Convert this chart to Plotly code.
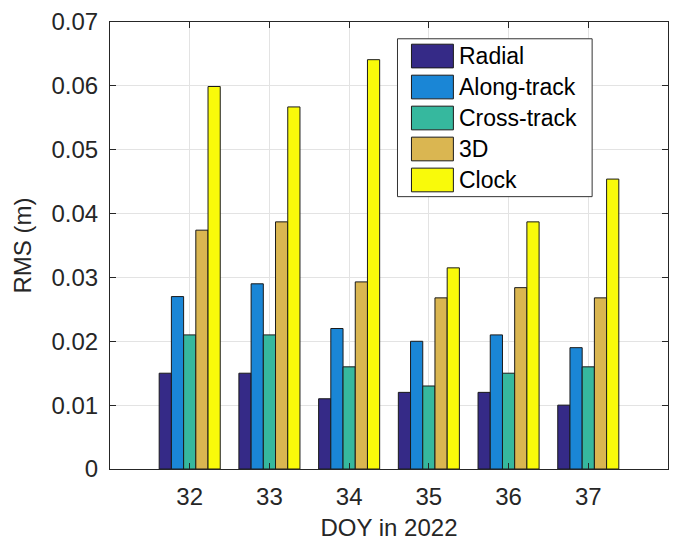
import plotly.graph_objects as go

# Orbit and clock RMS per day of year
doy = [32, 33, 34, 35, 36, 37]
series_names = ["Radial", "Along-track", "Cross-track", "3D", "Clock"]
radial = [0.015, 0.015, 0.011, 0.012, 0.012, 0.010]
along_track = [0.027, 0.029, 0.022, 0.020, 0.021, 0.019]
cross_track = [0.021, 0.021, 0.016, 0.013, 0.015, 0.016]
three_d = [0.0374, 0.0387, 0.0293, 0.0268, 0.0284, 0.0268]
clock = [0.0599, 0.0567, 0.0641, 0.0315, 0.0387, 0.0454]
y_ticks = [0, 0.01, 0.02, 0.03, 0.04, 0.05, 0.06, 0.07]
y_tick_text = ["0", "0.01", "0.02", "0.03", "0.04", "0.05", "0.06", "0.07"]

values = [radial, along_track, cross_track, three_d, clock]
colors = ["#352A87", "#1A86D6", "#36B89E", "#DAB651", "#F9FA0A"]

W, H = 677, 551
ML, MR, MT, MB = 110, 8, 16, 82
PW, PH = W - ML - MR, H - MT - MB
FONT = "Liberation Sans, Arial, sans-serif"
INK = "#262626"

fig = go.Figure()
for name, vals, col in zip(series_names, values, colors):
    fig.add_trace(go.Bar(
        x=doy, y=vals, name=name, showlegend=False,
        marker=dict(color=col, line=dict(color="#1a1a1a", width=1)),
    ))


def px_x(p):
    return (p - ML) / PW


def px_y(p):
    return (H - MB - p) / PH


# Boxed legend in the upper right, drawn with shapes and text
shapes = [dict(type="rect", xref="paper", yref="paper",
               x0=px_x(398), x1=px_x(593), y0=px_y(193), y1=px_y(33),
               line=dict(color="#333333", width=1), fillcolor="white", layer="above")]
annotations = []
row0, pitch = 50.5, 31.4
for i, (name, col) in enumerate(zip(series_names, colors)):
    cy = row0 + i * pitch
    shapes.append(dict(type="rect", xref="paper", yref="paper",
                       x0=px_x(412), x1=px_x(454), y0=px_y(cy + 12), y1=px_y(cy - 12),
                       line=dict(color="#1a1a1a", width=1), fillcolor=col, layer="above"))
    annotations.append(dict(xref="paper", yref="paper", x=px_x(458), y=px_y(cy),
                            xanchor="left", yanchor="middle", text=name, showarrow=False,
                            font=dict(family=FONT, size=23, color="#000000")))

fig.update_layout(
    width=W, height=H,
    margin=dict(l=ML, r=MR, t=MT, b=MB),
    paper_bgcolor="white", plot_bgcolor="white",
    barmode="group", bargap=0.234, bargroupgap=0,
    font=dict(family=FONT, size=24, color=INK),
    shapes=shapes, annotations=annotations,
    xaxis=dict(
        range=[31, 38], tickvals=doy, ticktext=[str(d) for d in doy],
        ticks="inside", ticklen=6, tickcolor=INK, mirror="allticks",
        showline=True, linecolor=INK, linewidth=1,
        showgrid=True, gridcolor="#e3e3e3", gridwidth=1, zeroline=False,
        title=dict(text="DOY in 2022", standoff=10, font=dict(size=24)),
        tickfont=dict(size=24), ticklabelstandoff=6,
    ),
    yaxis=dict(
        range=[0, 0.07], tickvals=y_ticks, ticktext=y_tick_text,
        ticks="inside", ticklen=6, tickcolor=INK, mirror="allticks",
        showline=True, linecolor=INK, linewidth=1,
        showgrid=True, gridcolor="#e3e3e3", gridwidth=1, zeroline=False,
        title=dict(text="RMS (m)", standoff=13, font=dict(size=24)),
        tickfont=dict(size=24), ticklabelstandoff=6,
    ),
)

fig.write_html("out.html")
